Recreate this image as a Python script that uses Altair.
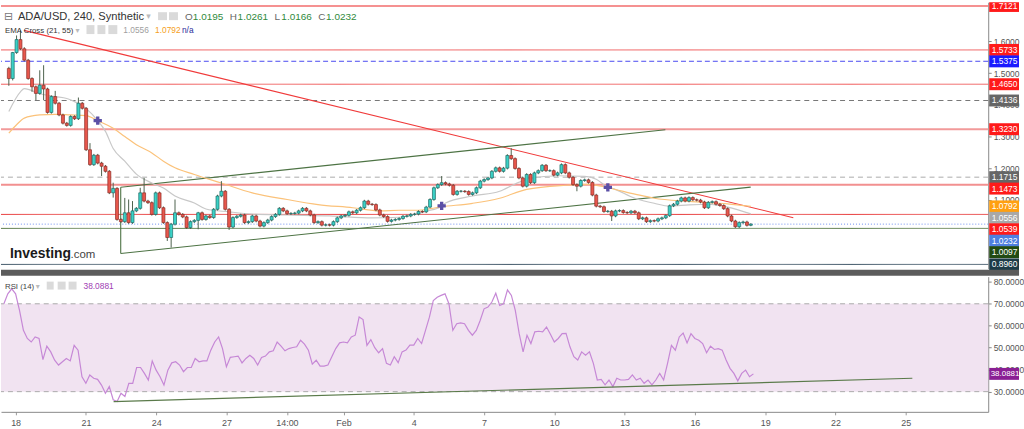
import altair as alt
import pandas as pd

# ---------------- data ----------------
first_open = 1.515
closes = [
    1.483, 1.565, 1.606, 1.577, 1.541, 1.483, 1.457, 1.436, 1.462, 1.450,
    1.376, 1.426, 1.405, 1.368, 1.342, 1.335, 1.363, 1.356, 1.405, 1.389,
    1.258, 1.211, 1.241, 1.216, 1.206, 1.190, 1.122, 1.136, 1.038, 1.031,
    1.059, 1.028, 1.065, 1.073, 1.122, 1.096, 1.091, 1.054, 1.122, 1.075,
    1.028, 0.981, 1.023, 1.059, 1.054, 1.046, 1.012, 1.031, 1.035, 1.059,
    1.038, 1.049, 1.044, 1.070, 1.112, 1.127, 1.070, 1.014, 1.044, 1.048,
    1.052, 1.028, 1.031, 1.049, 1.033, 1.017, 1.028, 1.036, 1.047, 1.054,
    1.073, 1.065, 1.056, 1.057, 1.058, 1.065, 1.073, 1.065, 1.052, 1.028,
    1.031, 1.020, 1.021, 1.020, 1.031, 1.043, 1.049, 1.051, 1.062, 1.059,
    1.067, 1.075, 1.096, 1.086, 1.085, 1.068, 1.052, 1.047, 1.032, 1.036,
    1.038, 1.041, 1.048, 1.049, 1.054, 1.055, 1.063, 1.062, 1.077, 1.101,
    1.138, 1.148, 1.154, 1.150, 1.146, 1.117, 1.127, 1.127, 1.126, 1.117,
    1.122, 1.138, 1.159, 1.164, 1.169, 1.190, 1.201, 1.190, 1.200, 1.240,
    1.230, 1.199, 1.169, 1.143, 1.180, 1.154, 1.185, 1.192, 1.209, 1.192,
    1.192, 1.178, 1.185, 1.211, 1.185, 1.171, 1.148, 1.143, 1.161, 1.163,
    1.155, 1.115, 1.080, 1.078, 1.063, 1.064, 1.049, 1.065, 1.066, 1.060,
    1.059, 1.064, 1.059, 1.040, 1.043, 1.031, 1.034, 1.033, 1.040, 1.043,
    1.050, 1.081, 1.086, 1.096, 1.106, 1.096, 1.107, 1.100, 1.099, 1.093,
    1.075, 1.092, 1.094, 1.086, 1.082, 1.072, 1.049, 1.033, 1.015, 1.028,
    1.030, 1.0195, 1.0232,
]
highs_read = {0: 1.520, 1: 1.567, 2: 1.619, 3: 1.635, 4: 1.582, 8: 1.509, 9: 1.525,
              12: 1.444, 18: 1.423, 21: 1.279, 27: 1.154, 30: 1.106, 31: 1.101,
              32: 1.096, 34: 1.138, 35: 1.169, 43: 1.101, 49: 1.062, 55: 1.159,
              112: 1.175, 130: 1.263, 192: 1.0261}
lows_read = {0: 1.460, 1: 1.477, 6: 1.441, 7: 1.415, 9: 1.415, 24: 1.175, 27: 1.107,
             41: 0.970, 42: 0.949, 49: 1.007, 57: 1.005, 147: 1.127, 156: 1.033,
             192: 1.0166}
small_wick = 0.004

rsi_values = [
    70.0, 74.5, 76.8, 74.5, 67.0, 57.9, 54.2, 52.6, 54.9, 54.2,
    44.6, 50.7, 48.1, 44.3, 42.1, 43.6, 45.1, 44.0, 51.1, 48.9,
    36.8, 33.8, 37.6, 36.1, 35.6, 33.0, 29.3, 32.3, 26.3, 25.5,
    29.3, 27.8, 33.8, 33.8, 41.0, 41.0, 38.3, 35.3, 44.0, 39.8,
    36.8, 33.0, 39.8, 43.1, 43.6, 42.1, 39.1, 41.0, 41.0, 45.1,
    43.6, 44.0, 44.0, 48.9, 52.6, 54.9, 49.6, 41.3, 45.6, 45.9,
    46.2, 43.1, 45.1, 46.6, 45.1, 42.1, 45.6, 46.2, 48.1, 48.6,
    52.6, 50.7, 48.6, 49.6, 50.1, 50.4, 53.4, 51.6, 48.9, 42.5,
    44.3, 41.6, 41.6, 42.1, 45.9, 49.6, 52.2, 52.6, 52.2, 54.9,
    55.7, 64.0, 62.8, 51.1, 53.7, 50.0, 47.7, 49.6, 42.9, 42.1,
    45.9, 43.2, 48.1, 48.9, 51.2, 51.2, 54.2, 51.9, 57.9, 63.9,
    71.5, 73.0, 73.8, 74.5, 70.0, 57.9, 60.9, 61.3, 60.9, 57.9,
    55.7, 57.9, 62.4, 67.7, 68.5, 70.8, 74.8, 69.2, 70.0, 76.3,
    73.8, 67.0, 56.4, 48.1, 55.7, 51.9, 57.2, 57.5, 57.2, 59.4,
    56.1, 52.6, 54.2, 56.4, 56.5, 50.4, 45.9, 44.4, 48.1, 46.6,
    48.1, 42.9, 35.3, 35.6, 33.1, 35.3, 32.3, 36.1, 35.3, 35.3,
    35.6, 37.6, 35.3, 36.1, 33.8, 35.3, 33.1, 35.3, 38.3, 35.3,
    42.9, 51.1, 48.9, 54.9, 56.7, 52.2, 56.4, 54.2, 53.4, 51.9,
    47.7, 50.7, 49.2, 49.6, 48.9, 44.4, 40.6, 38.3, 34.9, 38.3,
    39.8, 36.8, 38.0881,
]

ema21_idx = [0, 3, 4, 8, 12, 15, 17, 20, 23, 25, 27, 30, 33, 37, 40, 43, 48, 51, 57, 63, 72,
             83, 94, 101, 108, 112, 113, 120, 127, 131, 135, 142, 149, 152, 155, 156, 162,
             167, 171, 176, 181, 186, 192]
ema21_val = [1.379, 1.441, 1.451, 1.435, 1.426, 1.420, 1.410, 1.388, 1.350, 1.316, 1.262,
             1.222, 1.181, 1.153, 1.137, 1.112, 1.090, 1.071, 1.062, 1.055, 1.052, 1.049,
             1.043, 1.045, 1.064, 1.080, 1.090, 1.112, 1.127, 1.150, 1.168, 1.176, 1.174,
             1.165, 1.140, 1.137, 1.105, 1.089, 1.080, 1.084, 1.086, 1.077, 1.0556]
ema55_idx = [0, 2, 4, 8, 12, 16, 20, 23, 27, 30, 33, 37, 40, 43, 48, 55, 63, 72, 80, 89, 96,
             101, 106, 112, 120, 127, 134, 144, 150, 155, 162, 167, 176, 186, 192]
ema55_val = [1.3105, 1.337, 1.358, 1.368, 1.370, 1.368, 1.366, 1.350, 1.326, 1.300, 1.274,
             1.248, 1.222, 1.201, 1.180, 1.153, 1.122, 1.101, 1.085, 1.075, 1.065, 1.067,
             1.067, 1.078, 1.089, 1.105, 1.133, 1.146, 1.149, 1.138, 1.118, 1.105, 1.095,
             1.087, 1.0792]
cross_idx = [23, 112, 155]
cross_val = [1.350, 1.081, 1.139]

# horizontal price levels
level_prices = [1.7121, 1.5733, 1.5375, 1.4650, 1.4136, 1.3230, 1.1715, 1.1473, 1.0539, 1.0232, 1.0097, 0.8960]
level_colors = ["#f26d6d", "#f05a5a", "#4b4bf0", "#f05a5a", "#777777", "#f29a9a", "#aaaaaa", "#f29090", "#e83a3a", "#6f8ff0", "#5a7a48", "#3d5566"]
level_dash = [[1, 0], [1, 0], [5, 3], [1, 0], [5, 4], [1, 0], [5, 4], [1, 0], [1, 0], [1, 2], [1, 0], [1, 0]]
level_width = [1.5, 1, 1, 1, 1, 2, 1, 2, 1, 1, 1, 1]

# right-hand price labels
label_prices = [1.7121, 1.5733, 1.5375, 1.4650, 1.4136, 1.3230, 1.1715, 1.1473, 1.0792, 1.0556, 1.0539, 1.0232, 1.0097, 0.8960]
label_colors = ["#ff1a1a", "#ff1a1a", "#1a1aff", "#ff1a1a", "#666666", "#ff1a1a", "#666666", "#ff1a1a", "#ffa010", "#a8a8a8", "#ff1a1a", "#4f7fe0", "#214a12", "#1d3b47"]

# trend lines (day, price)
trend_x1 = [18.153, 22.325, 22.325, 22.325]
trend_y1 = [1.6351, 1.1399, 0.9305, 0.9305]
trend_x2 = [51.333, 45.814, 49.494, 22.325]
trend_y2 = [1.0436, 1.3211, 1.1400, 1.1399]
trend_col = ["#f03a3a", "#4d7344", "#4d7344", "#4d7344"]
rsi_trend = [22.185, 25.5, 56.285, 36.1]

tick_days = [18, 21, 24, 27, 29.583, 32, 35, 38, 41, 44, 47, 50, 53, 56]
tick_labels = ["18", "21", "24", "27", "14:00", "Feb", "4", "7", "10", "13", "16", "19", "22", "25"]
# price ticks that are not fully hidden under the coloured price labels
price_ticks = [1.1, 1.2, 1.3, 1.4, 1.5, 1.6]
rsi_ticks = [30, 40, 50, 60, 70, 80]

start_day = 17.5  # Jan 17 12:00, 4-hour bars
bars_per_day = 6

# ---------------- build tables ----------------
rows = []
prev = first_open
for i, c in enumerate(closes):
    o = prev
    rows.append(dict(d=start_day + i / bars_per_day, o=o, c=c,
                     h=highs_read.get(i, max(o, c) + small_wick),
                     l=lows_read.get(i, min(o, c) - small_wick),
                     col="#3bd1c6" if c >= o else "#e8574c",
                     edge="#1d6b66" if c >= o else "#8c2b26"))
    prev = c
candles = pd.DataFrame(rows)
rsi_df = pd.DataFrame({"d": [start_day + i / bars_per_day for i in range(len(rsi_values))], "v": rsi_values})
ema21 = pd.DataFrame({"d": [start_day + i / bars_per_day for i in ema21_idx], "p": ema21_val})
ema55 = pd.DataFrame({"d": [start_day + i / bars_per_day for i in ema55_idx], "p": ema55_val})
cross = pd.DataFrame({"d": [start_day + i / bars_per_day for i in cross_idx], "p": cross_val})
trend = pd.DataFrame({"x1": trend_x1, "y1": trend_y1, "x2": trend_x2, "y2": trend_y2, "col": trend_col})

PMIN, PMAX = 0.8825, 1.7239
RMIN, RMAX = 20.81, 82.35
TOP_H, RSI_H, W = 268, 136, 993
px_per_unit = TOP_H / (PMAX - PMIN)
gap = 11.5 / px_per_unit
half = 6 / px_per_unit
lab_rows = []
last = None
for p, col in sorted(zip(label_prices, label_colors), key=lambda t: -t[0]):
    ly = p if last is None else min(p, last - gap)
    last = ly
    lab_rows.append(dict(ly=ly, top=min(ly + half, PMAX), bot=ly - half, t=f"{p:.4f}", col=col))
labels = pd.DataFrame(lab_rows)

xscale = alt.Scale(domain=[17.376, 59.524], nice=False, zero=False)
yscale = alt.Scale(domain=[PMIN, PMAX], nice=False, zero=False)
rscale = alt.Scale(domain=[RMIN, RMAX], nice=False, zero=False)
FONT = "Liberation Sans"
one = pd.DataFrame({"a": [0]})

price_axis = alt.Axis(orient="right", values=price_ticks, format=".4f", labelFontSize=8.5,
                      labelColor="#555555", labelFont=FONT, domainColor="#888888",
                      tickColor="#888888", tickSize=3, grid=False, title=None, labelPadding=2)
label_expr = "".join(f"abs(datum.value - {d}) < 0.01 ? '{t}' : " for d, t in zip(tick_days, tick_labels)) + "''"
x_axis = alt.Axis(values=tick_days, labelExpr=label_expr, labelFontSize=9, labelColor="#555555",
                  labelFont=FONT, domainColor="#888888", tickColor="#999999", tickSize=3,
                  grid=False, title=None, labelPadding=4)
rsi_axis = alt.Axis(orient="right", values=rsi_ticks, format=".4f", labelFontSize=8.5,
                    labelColor="#555555", labelFont=FONT, domainColor="#888888",
                    tickColor="#888888", tickSize=3, grid=False, title=None, labelPadding=2)


def X(f="d"):
    return alt.X(f"{f}:Q", scale=xscale, axis=None)


def Y(f):
    return alt.Y(f"{f}:Q", scale=yscale, axis=price_axis)


def RX(f="d"):
    return alt.X(f"{f}:Q", scale=xscale, axis=x_axis)


def RY(f):
    return alt.Y(f"{f}:Q", scale=rscale, axis=rsi_axis)


def txt(x, y, s, color="#333333", size=10, weight="normal", font=FONT):
    return alt.Chart(one).mark_text(align="left", baseline="alphabetic", fontSize=size,
                                    fontWeight=weight, color=color, font=font).encode(
        x=alt.value(x), y=alt.value(y), text=alt.value(s))


def box(x1, x2, y1, y2, color="#dadada"):
    return alt.Chart(one).mark_rect(color=color).encode(
        x=alt.value(x1), x2=alt.value(x2), y=alt.value(y1), y2=alt.value(y2))


layers = []
for p, col, dash, wd in zip(level_prices, level_colors, level_dash, level_width):
    layers.append(alt.Chart(pd.DataFrame({"p": [p]})).mark_rule(color=col, strokeDash=dash, strokeWidth=wd)
                  .encode(y=Y("p")))
layers.append(alt.Chart(trend).mark_rule(strokeWidth=1.1).encode(
    x=X("x1"), x2="x2:Q", y=Y("y1"), y2="y2:Q", color=alt.Color("col:N", scale=None)))
layers.append(alt.Chart(ema21).mark_line(color="#c8c8c8", strokeWidth=1.2, interpolate="monotone")
              .encode(x=X(), y=Y("p")))
layers.append(alt.Chart(ema55).mark_line(color="#fbc27a", strokeWidth=1.2, interpolate="monotone")
              .encode(x=X(), y=Y("p")))
layers.append(alt.Chart(candles).mark_rule(color="#4e624e", strokeWidth=1).encode(
    x=X(), y=Y("l"), y2="h:Q"))
layers.append(alt.Chart(candles).mark_bar(size=3, strokeWidth=0.7).encode(
    x=X(), y=Y("o"), y2="c:Q", color=alt.Color("col:N", scale=None),
    stroke=alt.Stroke("edge:N", scale=None)))
layers.append(alt.Chart(cross).mark_point(shape="cross", size=70, filled=True, color="#5b4fa6", opacity=1)
              .encode(x=X(), y=Y("p")))
layers += [
    txt(3, 18, "⊟", "#777777", 11, font="DejaVu Sans"),
    txt(17, 18, "ADA/USD, 240, Synthetic", "#333333", 11.2),
    txt(146, 17, "▾", "#bbbbbb", 9, font="DejaVu Sans"),
    box(158, 167, 10, 18), box(169, 178, 10, 18),
    txt(185, 18, "O", "#666666", 10), txt(193, 18, "1.0195", "#2f8a3c", 10),
    txt(230, 18, "H", "#666666", 10), txt(238, 18, "1.0261", "#2f8a3c", 10),
    txt(275, 18, "L", "#666666", 10), txt(282, 18, "1.0166", "#2f8a3c", 10),
    txt(319, 18, "C", "#666666", 10), txt(327, 18, "1.0232", "#2f8a3c", 10),
    txt(4, 31, "EMA Cross (21, 55)", "#333333", 7.9),
    txt(75, 31, "▾", "#bbbbbb", 8, font="DejaVu Sans"),
    box(86, 94, 23, 32), box(97, 105, 23, 32), box(108, 117, 23, 32),
    txt(123, 31, "1.0556", "#a0a0a0", 8.4),
    txt(155, 31, "1.0792", "#f5a01a", 8.4),
    txt(182, 31, "n/a", "#2a2a9a", 8.4),
    txt(9, 257, "Investing", "#1a1a1a", 14, "bold"),
    txt(70, 257, ".com", "#444444", 11.5),
]
layers.append(alt.Chart(labels).mark_rect().encode(
    x=alt.value(994), x2=alt.value(1024), y=Y("top"), y2="bot:Q", color=alt.Color("col:N", scale=None)))
layers.append(alt.Chart(labels).mark_text(align="left", baseline="alphabetic", dy=3, fontSize=8.5,
                                          font=FONT, color="white")
              .encode(x=alt.value(996.5), y=Y("ly"), text="t:N"))

top = alt.layer(*layers).properties(width=W, height=TOP_H)

# ---------------- RSI panel ----------------
rl = []
rl.append(alt.Chart(pd.DataFrame({"a": [70], "b": [30]})).mark_rect(color="#f1e3f1").encode(
    y=RY("a"), y2="b:Q", x=alt.value(0), x2=alt.value(W)))
for lvl in [70, 30]:
    rl.append(alt.Chart(pd.DataFrame({"v": [lvl]})).mark_rule(color="#aaaaaa", strokeDash=[5, 4])
              .encode(y=RY("v")))
rl.append(alt.Chart(rsi_df).mark_line(color="#c688d6", strokeWidth=1.2).encode(x=RX(), y=RY("v")))
rl.append(alt.Chart(pd.DataFrame({"x1": [rsi_trend[0]], "y1": [rsi_trend[1]], "x2": [rsi_trend[2]], "y2": [rsi_trend[3]]}))
          .mark_rule(color="#5a7a4a", strokeWidth=1.2).encode(
    x=RX("x1"), x2="x2:Q", y=RY("y1"), y2="y2:Q"))
rl += [
    box(0, 1024, -7, -1, "#5c5c5c"),
    txt(4, 12.5, "RSI (14)", "#444444", 7.9),
    txt(35, 12, "▾", "#bbbbbb", 8, font="DejaVu Sans"),
    box(46, 53, 5, 13), box(57, 65, 5, 13), box(68, 76, 5, 13),
    txt(83, 12.5, "38.0881", "#a03cb4", 8.4),
]
rsi_lab = pd.DataFrame({"v": [38.0881], "t": ["38.0881"]})
rl.append(alt.Chart(rsi_lab).mark_rect(yOffset=-6, y2Offset=6, color="#8a1f94").encode(
    x=alt.value(994), x2=alt.value(1024), y=RY("v"), y2="v:Q"))
rl.append(alt.Chart(rsi_lab).mark_text(align="left", baseline="middle", fontSize=8, font=FONT, color="white")
          .encode(x=alt.value(995.5), y=RY("v"), text="t:N"))

bottom = alt.layer(*rl).properties(width=W, height=RSI_H)

chart = alt.vconcat(top, bottom, spacing=8, bounds="flush").properties(
    padding={"left": 0, "top": 0, "right": 0, "bottom": 0}, background="white"
).configure_view(stroke=None).resolve_scale(x="independent", y="independent")

chart.save("out.html", embed_options={"renderer": "svg", "actions": False})
